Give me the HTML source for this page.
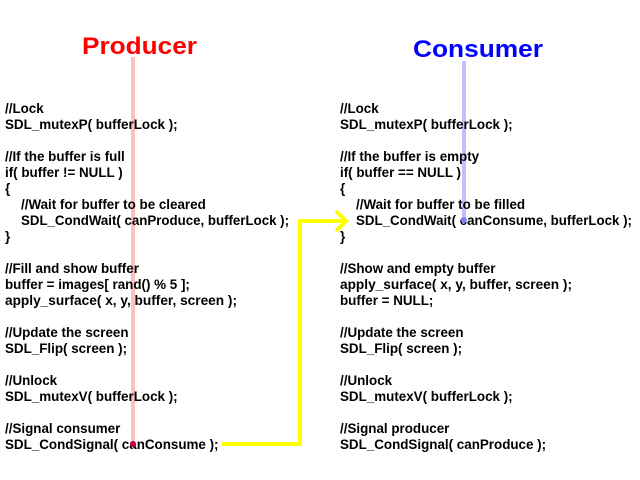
<!DOCTYPE html>
<html><head><style>
html,body{margin:0;padding:0;background:#fff;width:640px;height:480px;overflow:hidden}
svg text{font-family:"Liberation Sans",sans-serif;font-weight:bold;font-size:13.4px;fill:#000}
</style></head><body>
<svg width="640" height="480" xmlns="http://www.w3.org/2000/svg">
<text x="82" y="54" style="font-size:24px;fill:#ff0000" textLength="115" lengthAdjust="spacingAndGlyphs">Producer</text>
<text x="413" y="57" style="font-size:24px;fill:#0000ff" textLength="130" lengthAdjust="spacingAndGlyphs">Consumer</text>
<rect x="131" y="57" width="4" height="387" fill="#ffc0c0"/>
<rect x="462" y="61" width="4" height="160" fill="#c0c0ff"/>
<g>
<text x="5" y="113">//Lock</text>
<text x="5" y="129">SDL_mutexP( bufferLock );</text>
<text x="5" y="161">//If the buffer is full</text>
<text x="5" y="177">if( buffer != NULL )</text>
<text x="5" y="193">{</text>
<text x="21" y="209">//Wait for buffer to be cleared</text>
<text x="21" y="225" textLength="268" lengthAdjust="spacingAndGlyphs">SDL_CondWait( canProduce, bufferLock );</text>
<text x="5" y="241">}</text>
<text x="5" y="273">//Fill and show buffer</text>
<text x="5" y="289">buffer = images[ rand() % 5 ];</text>
<text x="5" y="305" textLength="232" lengthAdjust="spacingAndGlyphs">apply_surface( x, y, buffer, screen );</text>
<text x="5" y="337">//Update the screen</text>
<text x="5" y="353">SDL_Flip( screen );</text>
<text x="5" y="385">//Unlock</text>
<text x="5" y="401">SDL_mutexV( bufferLock );</text>
<text x="5" y="433">//Signal consumer</text>
<text x="5" y="449">SDL_CondSignal( canConsume );</text>
</g>
<g>
<text x="340" y="113">//Lock</text>
<text x="340" y="129">SDL_mutexP( bufferLock );</text>
<text x="340" y="161">//If the buffer is empty</text>
<text x="340" y="177">if( buffer == NULL )</text>
<text x="340" y="193">{</text>
<text x="356" y="209">//Wait for buffer to be filled</text>
<text x="356" y="225" textLength="276" lengthAdjust="spacingAndGlyphs">SDL_CondWait( canConsume, bufferLock );</text>
<text x="340" y="241">}</text>
<text x="340" y="273">//Show and empty buffer</text>
<text x="340" y="289" textLength="232" lengthAdjust="spacingAndGlyphs">apply_surface( x, y, buffer, screen );</text>
<text x="340" y="305">buffer = NULL;</text>
<text x="340" y="337">//Update the screen</text>
<text x="340" y="353">SDL_Flip( screen );</text>
<text x="340" y="385">//Unlock</text>
<text x="340" y="401">SDL_mutexV( bufferLock );</text>
<text x="340" y="433">//Signal producer</text>
<text x="340" y="449">SDL_CondSignal( canProduce );</text>
</g>
<polyline points="222,444 300,444 300,221 344,221" fill="none" stroke="#ffff00" stroke-width="4"/>
<polyline points="336,211 346,221 336,231" fill="none" stroke="#ffff00" stroke-width="4"/>
<circle cx="133" cy="444" r="3" fill="#c00040"/>
<circle cx="464" cy="220" r="3" fill="#8080ff"/>
</svg>
</body></html>
